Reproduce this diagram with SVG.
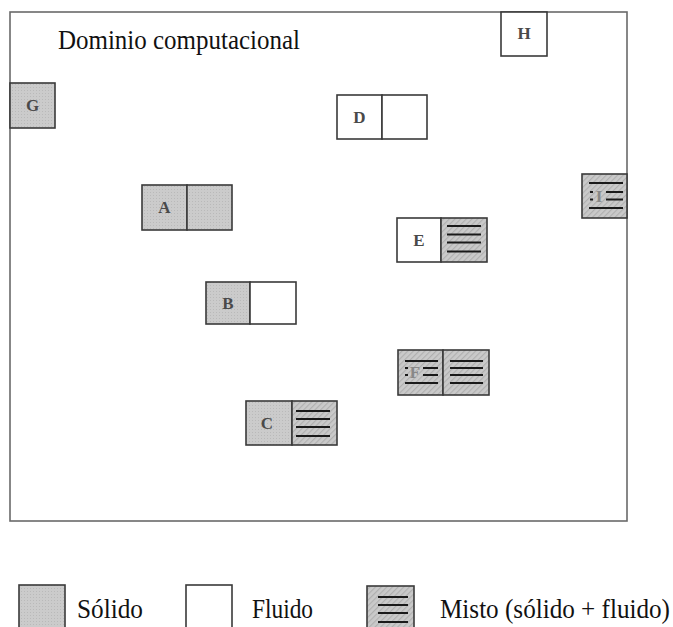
<svg xmlns="http://www.w3.org/2000/svg" width="673" height="627" viewBox="0 0 673 627" font-family="'Liberation Serif', 'Times New Roman', Times, serif">
<defs>
<pattern id="dots" width="3" height="3" patternUnits="userSpaceOnUse">
<rect width="3" height="3" fill="#cbcbcb"/>
<rect width="1" height="1" fill="#b9b9b9"/>
</pattern>
<pattern id="hatch" width="4" height="4" patternUnits="userSpaceOnUse" patternTransform="rotate(45)">
<rect width="4" height="4" fill="#cacaca"/>
<rect width="1.2" height="4" fill="#b0b0b0"/>
</pattern>
</defs>
<style>
.frame{fill:none;stroke:#6a6a6a;stroke-width:1.6}
.solid{fill:url(#dots);stroke:#3a3a3a;stroke-width:1.6}
.fluid{fill:#ffffff;stroke:#3a3a3a;stroke-width:1.6}
.mixed{fill:url(#hatch);stroke:#3a3a3a;stroke-width:1.6}
.hl{stroke:#1a1a1a;stroke-width:2}
.lbl{font-size:17px;fill:#4a4a4a;text-anchor:middle;font-weight:bold}
.big{font-family:"Liberation Serif","Times New Roman",serif;font-size:27px;fill:#111}
</style>
<rect class="frame" x="10" y="12" width="617" height="509"/>
<text class="big" x="58" y="49" style="font-size:28px" textLength="242" lengthAdjust="spacingAndGlyphs">Dominio computacional</text>

<g id="G">
<rect class="solid" x="10" y="83" width="45" height="45"/>
<text class="lbl" x="32.5" y="111">G</text>
</g>
<g id="H">
<rect class="fluid" x="501" y="12" width="46" height="44"/>
<text class="lbl" x="524" y="39">H</text>
</g>
<g id="D">
<rect class="fluid" x="337" y="95" width="45" height="44"/>
<rect class="fluid" x="382" y="95" width="45" height="44"/>
<text class="lbl" x="359.5" y="123">D</text>
</g>
<g id="A">
<rect class="solid" x="142" y="185" width="45" height="45"/>
<rect class="solid" x="187" y="185" width="45" height="45"/>
<text class="lbl" x="164.5" y="213">A</text>
</g>
<g id="I">
<rect class="mixed" x="582" y="174" width="45" height="44"/>
<text class="lbl" x="599" y="202" style="fill:#888">I</text>
<g class="hl">
<line x1="589" y1="183" x2="623" y2="183"/>
<line x1="590" y1="192" x2="593" y2="192"/>
<line x1="606" y1="192" x2="623" y2="192"/>
<line x1="590" y1="199.5" x2="593" y2="199.5"/>
<line x1="606" y1="199.5" x2="623" y2="199.5"/>
<line x1="589" y1="208" x2="623" y2="208"/>
</g>
</g>
<g id="E">
<rect class="fluid" x="397" y="218" width="44" height="44"/>
<rect class="mixed" x="441" y="218" width="46" height="44"/>
<text class="lbl" x="419" y="246">E</text>
<g class="hl">
<line x1="447" y1="226" x2="481" y2="226"/>
<line x1="447" y1="234.5" x2="481" y2="234.5"/>
<line x1="447" y1="242.5" x2="481" y2="242.5"/>
<line x1="447" y1="251.5" x2="481" y2="251.5"/>
</g>
</g>
<g id="B">
<rect class="solid" x="206" y="282" width="44" height="42"/>
<rect class="fluid" x="250" y="282" width="46" height="42"/>
<text class="lbl" x="228" y="309">B</text>
</g>
<g id="F">
<rect class="mixed" x="398" y="350" width="45" height="45"/>
<rect class="mixed" x="443" y="350" width="46" height="45"/>
<text class="lbl" x="415" y="378" style="fill:#888">F</text>
<g class="hl">
<line x1="405" y1="361" x2="438" y2="361"/>
<line x1="405" y1="368" x2="408" y2="368"/>
<line x1="423" y1="368" x2="438" y2="368"/>
<line x1="405" y1="375" x2="408" y2="375"/>
<line x1="423" y1="375" x2="438" y2="375"/>
<line x1="405" y1="383" x2="438" y2="383"/>
<line x1="450" y1="361" x2="483" y2="361"/>
<line x1="450" y1="368" x2="483" y2="368"/>
<line x1="450" y1="375" x2="483" y2="375"/>
<line x1="450" y1="383" x2="483" y2="383"/>
</g>
</g>
<g id="C">
<rect class="solid" x="246" y="401" width="46" height="44"/>
<rect class="mixed" x="292" y="401" width="45" height="44"/>
<text class="lbl" x="267" y="429">C</text>
<g class="hl">
<line x1="296" y1="411" x2="330" y2="411"/>
<line x1="296" y1="419" x2="330" y2="419"/>
<line x1="296" y1="427" x2="330" y2="427"/>
<line x1="296" y1="436" x2="330" y2="436"/>
</g>
</g>

<g id="legend">
<rect class="solid" x="19" y="585" width="46" height="46"/>
<text class="big" x="77" y="618" textLength="66" lengthAdjust="spacingAndGlyphs">Sólido</text>
<rect class="fluid" x="186" y="585" width="46" height="46"/>
<text class="big" x="252" y="618" textLength="61" lengthAdjust="spacingAndGlyphs">Fluido</text>
<rect class="mixed" x="367" y="586" width="47" height="46"/>
<g class="hl">
<line x1="378" y1="597" x2="408" y2="597"/>
<line x1="378" y1="605" x2="408" y2="605"/>
<line x1="378" y1="613" x2="408" y2="613"/>
<line x1="378" y1="622" x2="408" y2="622"/>
</g>
<text class="big" x="440" y="618" textLength="230" lengthAdjust="spacingAndGlyphs">Misto (sólido + fluido)</text>
</g>
</svg>
